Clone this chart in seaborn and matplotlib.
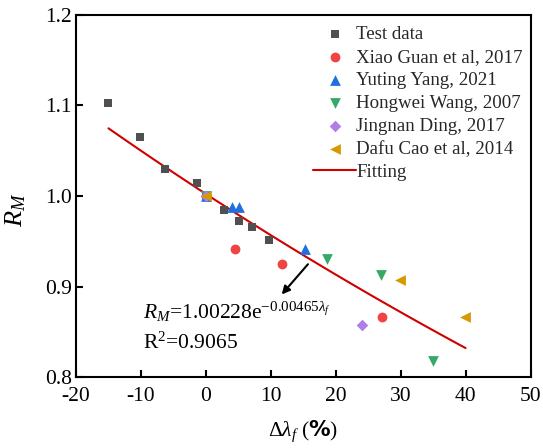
import numpy as np
import pandas as pd
import matplotlib
matplotlib.use("Agg")
import matplotlib.pyplot as plt
import seaborn as sns

# ---- data ----
test_x = [-15.0, -10.1, -6.3, -1.3, 0.0, 2.8, 5.1, 7.1, 9.7]
test_y = [1.103, 1.065, 1.030, 1.014, 1.000, 0.985, 0.972, 0.966, 0.951]

guan_x = [0.0, 4.5, 11.7, 27.2]
guan_y = [1.000, 0.941, 0.925, 0.866]

yang_x = [0.0, 4.0, 5.05, 15.3]
yang_y = [1.000, 0.9875, 0.9875, 0.942]

wang_x = [0.0, 18.7, 27.0, 35.0]
wang_y = [1.000, 0.931, 0.913, 0.818]

ding_x = [0.0, 24.1]
ding_y = [1.000, 0.858]

cao_x = [0.0, 29.9, 39.9]
cao_y = [1.000, 0.907, 0.866]

fit_a = 1.00228
fit_b = -0.00465
fit_range = [-15.0, 40.0]

xticks = [-20, -10, 0, 10, 20, 30, 40, 50]
yticks = [0.8, 0.9, 1.0, 1.1, 1.2]

sns.set_theme(style="white")
plt.rcParams['font.family'] = ['Liberation Serif', 'DejaVu Sans']
plt.rcParams['mathtext.fontset'] = 'custom'
plt.rcParams['mathtext.rm'] = 'Liberation Serif'
plt.rcParams['mathtext.it'] = 'Liberation Serif:italic'
plt.rcParams['mathtext.bf'] = 'Liberation Serif:bold'
plt.rcParams['mathtext.sf'] = 'DejaVu Sans:bold'

fig = plt.figure(figsize=(5.43, 4.48), dpi=100)
ax = fig.add_axes([0.140, 0.158, 0.837, 0.809])

series = [
    ("Test data", test_x, test_y, "#505050", "s", 40),
    ("Xiao Guan et al, 2017", guan_x, guan_y, "#f04444", "o", 50),
    ("Yuting Yang, 2021", yang_x, yang_y, "#1f6fe0", "^", 60),
    ("Hongwei Wang, 2007", wang_x, wang_y, "#36a86a", "v", 60),
    ("Jingnan Ding, 2017", ding_x, ding_y, "#b07ee8", "D", 35),
    ("Dafu Cao et al, 2014", cao_x, cao_y, "#d49a00", "<", 60),
]
for name, xs, ys, col, mk, s in series:
    df = pd.DataFrame({"x": xs, "y": ys})
    sns.scatterplot(data=df, x="x", y="y", ax=ax, color=col, marker=mk,
                    s=s, linewidth=0, label=name, zorder=3)

fx = np.linspace(fit_range[0], fit_range[1], 100)
fdf = pd.DataFrame({"x": fx, "y": fit_a * np.exp(fit_b * fx)})
sns.lineplot(data=fdf, x="x", y="y", ax=ax, color="#d00000", lw=1.5,
             label="Fitting", zorder=2)

ax.set_xlim(-20, 50)
ax.set_ylim(0.8, 1.2)
ax.set_xticks(xticks)
ax.set_yticks(yticks)
ax.set_xticklabels([str(t) for t in xticks])
ax.set_yticklabels([f"{t:.1f}" for t in yticks])
ax.tick_params(axis='both', direction='in', length=5, width=1.5,
               labelsize=15.5, colors='black', pad=3,
               top=False, right=False, bottom=True, left=True)
ax.tick_params(axis='x', pad=7)
for sp in ax.spines.values():
    sp.set_color('black')
    sp.set_linewidth(1.5)

ax.set_xlabel(r'$\Delta\lambda_f$ ($\mathsf{\%}$)', fontsize=15.5, labelpad=9, color='black')
ax.set_ylabel(r'$R_M$', fontsize=19, color='black')
ax.yaxis.set_label_coords(-0.105, 0.461)

ax.annotate('', xy=(11.4, 0.889), xytext=(16.0, 0.927),
            arrowprops=dict(arrowstyle='-|>', color='black', lw=1.5,
                            mutation_scale=12))
ax.text(-9.7, 0.8724, r'$R_M$=1.00228e$^{-0.00465\lambda_f}$', fontsize=15.5,
        va='center', ha='left', color='black')
ax.text(-9.7, 0.8375, r'R$^2$=0.9065', fontsize=15.5, va='center', ha='left',
        color='black')

leg = ax.legend(loc='upper right', frameon=False, fontsize=13.6,
                handlelength=2.3, handletextpad=0.0, labelspacing=0.3,
                borderaxespad=0.0, bbox_to_anchor=(1.0, 0.99))

fig.savefig("out.png", dpi=100)
